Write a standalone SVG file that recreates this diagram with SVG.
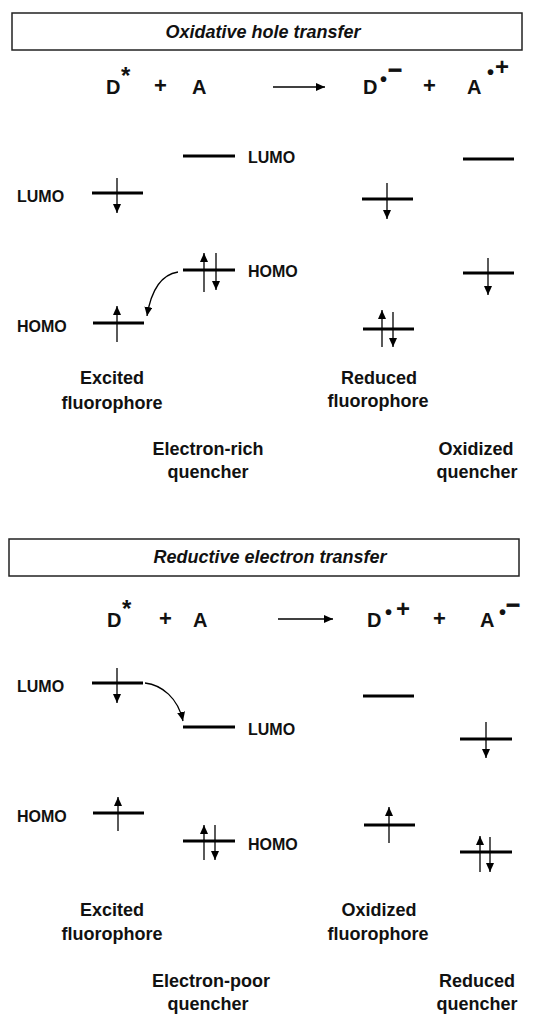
<svg xmlns="http://www.w3.org/2000/svg" width="536" height="1014" viewBox="0 0 536 1014">
<defs>
<style>
text{font-family:"Liberation Sans",Arial,sans-serif;font-weight:bold;fill:#111}
.ttl{font-size:18px;font-style:italic;text-anchor:middle}
.eq{font-size:20px}
.pl{font-size:22px}
.sup{font-size:24px}
.bul{font-size:20px}
.orb{font-size:16px}
.lab{font-size:18px;text-anchor:middle}
.box{fill:#fff;stroke:#222;stroke-width:1.5}
.lvl{stroke:#000;stroke-width:3;fill:none}
.e{stroke:#000;stroke-width:1.3;fill:none;marker-end:url(#ah)}
.cn{stroke:#000;stroke-width:1.3;fill:none;marker-end:url(#ah)}
</style>
<marker id="ah" markerUnits="userSpaceOnUse" markerWidth="10" markerHeight="9" refX="9" refY="4" orient="auto">
<path d="M0,0 L9,4 L0,8 z" fill="#000"/>
</marker>
</defs>
<rect width="536" height="1014" fill="#fff"/>

<!-- Section 1 -->
<g id="title1"><rect class="box" x="12" y="13" width="510" height="37"/><text class="ttl" x="263" y="38">Oxidative hole transfer</text></g>
<g id="eq1">
<text class="eq" x="106" y="94">D</text><text class="sup" x="121" y="84">*</text>
<text class="pl" x="154" y="93">+</text>
<text class="eq" x="192" y="94">A</text>
<text class="eq" x="363" y="94">D</text><text class="bul" x="380" y="86">•</text><text class="sup" x="388" y="78" stroke="#111" stroke-width="0.8">−</text>
<text class="pl" x="423" y="93">+</text>
<text class="eq" x="467" y="94">A</text><text class="bul" x="487" y="79">•</text><text class="sup" x="495" y="75">+</text>
</g>
<g id="d1-lumo"><text class="orb" x="17" y="202">LUMO</text><line class="lvl" x1="92" y1="193" x2="143" y2="193"/><line class="e" x1="117" y1="178" x2="117" y2="213"/></g>
<g id="d1-homo"><text class="orb" x="17" y="332">HOMO</text><line class="lvl" x1="93" y1="323" x2="144" y2="323"/><line class="e" x1="117" y1="342" x2="117" y2="306"/></g>
<g id="q1-lumo"><line class="lvl" x1="183" y1="156" x2="235" y2="156"/><text class="orb" x="248" y="163">LUMO</text></g>
<g id="q1-homo"><line class="lvl" x1="183" y1="270" x2="235" y2="270"/><line class="e" x1="204" y1="292" x2="204" y2="253"/><line class="e" x1="216" y1="253" x2="216" y2="290"/><text class="orb" x="248" y="277">HOMO</text></g>
<g id="rd1-lumo"><line class="lvl" x1="362" y1="199" x2="413" y2="199"/><line class="e" x1="387" y1="183" x2="387" y2="219"/></g>
<g id="rd1-homo"><line class="lvl" x1="363" y1="329" x2="414" y2="329"/><line class="e" x1="382" y1="347" x2="382" y2="310"/><line class="e" x1="393" y1="312" x2="393" y2="347"/></g>
<g id="oq1-lumo"><line class="lvl" x1="463" y1="159" x2="514" y2="159"/></g>
<g id="oq1-homo"><line class="lvl" x1="463" y1="273" x2="514" y2="273"/><line class="e" x1="488" y1="258" x2="488" y2="295"/></g>
<g id="labels1">
<text class="lab" x="112" y="384">Excited</text><text class="lab" x="112" y="409">fluorophore</text>
<text class="lab" x="379" y="384">Reduced</text><text class="lab" x="378" y="407">fluorophore</text>
<text class="lab" x="208" y="455">Electron-rich</text><text class="lab" x="208" y="478">quencher</text>
<text class="lab" x="476" y="455">Oxidized</text><text class="lab" x="477" y="478">quencher</text>
</g>

<!-- Section 2 -->
<g id="title2"><rect class="box" x="9" y="539" width="510" height="37"/><text class="ttl" x="270" y="563">Reductive electron transfer</text></g>
<g id="eq2">
<text class="eq" x="107" y="627">D</text><text class="sup" x="122" y="617">*</text>
<text class="pl" x="159" y="626">+</text>
<text class="eq" x="193" y="627">A</text>
<text class="eq" x="367" y="627">D</text><text class="bul" x="385" y="619">•</text><text class="sup" x="396" y="617">+</text>
<text class="pl" x="433" y="626">+</text>
<text class="eq" x="480" y="627">A</text><text class="bul" x="499" y="619">•</text><text class="sup" x="506" y="613" stroke="#111" stroke-width="0.8">−</text>
</g>
<g id="d2-lumo"><text class="orb" x="17" y="692">LUMO</text><line class="lvl" x1="92" y1="683" x2="143" y2="683"/><line class="e" x1="117" y1="668" x2="117" y2="703"/></g>
<g id="d2-homo"><text class="orb" x="17" y="822">HOMO</text><line class="lvl" x1="93" y1="813" x2="144" y2="813"/><line class="e" x1="118" y1="831" x2="118" y2="797"/></g>
<g id="q2-lumo"><line class="lvl" x1="183" y1="727" x2="235" y2="727"/><text class="orb" x="248" y="735">LUMO</text></g>
<g id="q2-homo"><line class="lvl" x1="183" y1="841" x2="235" y2="841"/><line class="e" x1="204" y1="860" x2="204" y2="825"/><line class="e" x1="215" y1="825" x2="215" y2="860"/><text class="orb" x="248" y="850">HOMO</text></g>
<g id="od2-lumo"><line class="lvl" x1="363" y1="696" x2="414" y2="696"/></g>
<g id="od2-homo"><line class="lvl" x1="364" y1="825" x2="415" y2="825"/><line class="e" x1="389" y1="843" x2="389" y2="807"/></g>
<g id="rq2-lumo"><line class="lvl" x1="460" y1="739" x2="512" y2="739"/><line class="e" x1="486" y1="722" x2="486" y2="758"/></g>
<g id="rq2-homo"><line class="lvl" x1="460" y1="852" x2="512" y2="852"/><line class="e" x1="480" y1="872" x2="480" y2="836"/><line class="e" x1="490" y1="837" x2="490" y2="872"/></g>
<g id="labels2">
<text class="lab" x="112" y="916">Excited</text><text class="lab" x="112" y="940">fluorophore</text>
<text class="lab" x="379" y="916">Oxidized</text><text class="lab" x="378" y="940">fluorophore</text>
<text class="lab" x="211" y="987">Electron-poor</text><text class="lab" x="208" y="1010">quencher</text>
<text class="lab" x="477" y="987">Reduced</text><text class="lab" x="477" y="1010">quencher</text>
</g>

<g id="connectors">
<line class="cn" x1="273" y1="87" x2="325" y2="87"/>
<path class="cn" d="M178,272 C165,274 152,285 147,316"/>
<line class="cn" x1="278" y1="619" x2="333" y2="619"/>
<path class="cn" d="M145,683 C162,685 178,698 183,721"/>
</g>
</svg>
